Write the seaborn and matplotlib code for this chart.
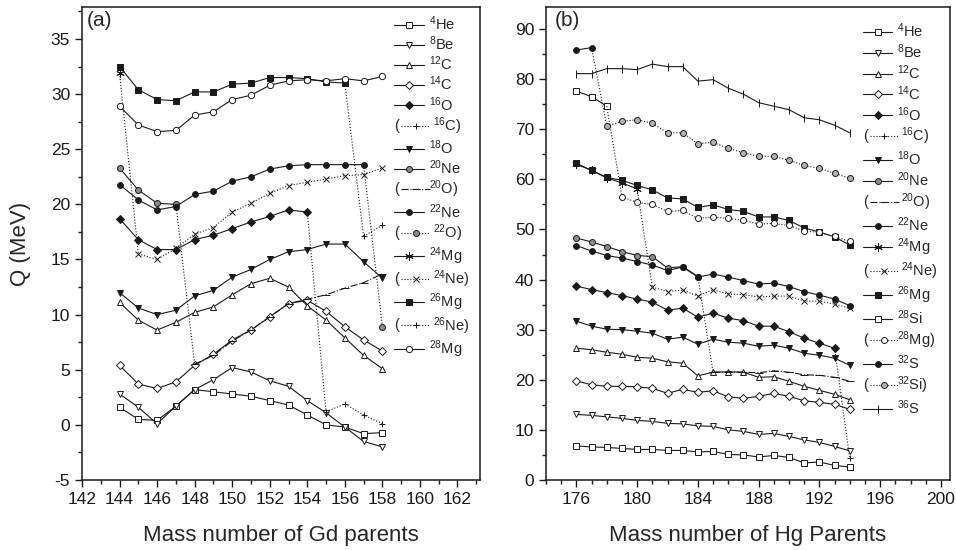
import matplotlib
matplotlib.use("Agg")
import numpy as np
import pandas as pd
import matplotlib.pyplot as plt
import seaborn as sns
from matplotlib.lines import Line2D
from matplotlib.text import Text
from matplotlib.legend_handler import HandlerLine2D
from matplotlib.ticker import MultipleLocator

sns.set_theme(style="ticks")
plt.rcParams["font.family"] = ["Liberation Sans", "DejaVu Sans"]
plt.rcParams["mathtext.fontset"] = "custom"
plt.rcParams["mathtext.rm"] = "Liberation Sans"
plt.rcParams["mathtext.it"] = "Liberation Sans:italic"
plt.rcParams["mathtext.bf"] = "Liberation Sans:bold"
plt.rcParams["axes.unicode_minus"] = False

# ---------------- data: panel (a) Gd parents ----------------
A_x = list(range(144, 159))
He4_a = [1.6, 0.5, 0.4, 1.7, 3.2, 3.0, 2.8, 2.6, 2.2, 1.8, 0.9, 0.0, -0.2, -0.8, -0.7]
Be8_a = [2.8, 1.6, 0.1, 1.7, 3.2, 4.1, 5.2, 4.8, 4.0, 3.5, 2.2, 1.1, -0.2, -1.5, -2.0]
C12_a = [11.1, 9.5, 8.6, 9.3, 10.2, 10.7, 11.8, 12.8, 13.3, 12.5, 10.8, 9.5, 7.9, 6.3, 5.1]
C14_a = [5.4, 3.7, 3.3, 3.9, 5.4, 6.4, 7.7, 8.6, 9.8, 11.0, 11.3, 10.3, 8.9, 7.7, 6.7]
O16_a = [18.7, 16.8, 15.9, 15.9, 16.8, 17.2, 17.8, 18.4, 18.9, 19.5, 19.3]
C16_a = [1.2, 1.9, 0.9, 0.1]
O18_a = [12.0, 10.6, 10.0, 10.4, 11.7, 12.2, 13.4, 14.1, 15.0, 15.7, 15.9, 16.4, 16.4, 14.8, 13.3]
Ne20_a = [23.3, 21.3, 20.1, 20.0]
O20_a = [5.5, 6.3, 7.6, 8.6, 9.8, 11.0, 11.4, 11.8, 12.4, 12.9, 13.7]
Ne22_a = [21.8, 20.4, 19.5, 19.8, 20.9, 21.2, 22.1, 22.5, 23.2, 23.5, 23.6, 23.6, 23.6, 23.6]
O22_a = [8.9]
Mg24_a = [31.9]
Ne24_a = [15.5, 15.0, 16.0, 17.3, 17.9, 19.3, 20.1, 21.0, 21.7, 22.0, 22.3, 22.6, 22.7, 23.3]
Mg26_a = [32.5, 30.4, 29.5, 29.4, 30.2, 30.2, 30.9, 31.0, 31.5, 31.5, 31.4, 31.1, 31.0]
Ne26_a = [17.1, 18.1]
Mg28_a = [28.9, 27.2, 26.6, 26.7, 28.1, 28.4, 29.5, 29.9, 30.8, 31.2, 31.3, 31.2, 31.4, 31.2, 31.6]

# ---------------- data: panel (b) Hg parents ----------------
B_x = list(range(176, 195))
He4_b = [6.8, 6.6, 6.5, 6.3, 6.1, 6.1, 5.9, 5.9, 5.6, 5.7, 5.1, 5.0, 4.6, 4.9, 4.5, 3.4, 3.6, 2.9, 2.6]
Be8_b = [13.1, 12.9, 12.6, 12.3, 11.9, 11.7, 11.3, 11.2, 10.8, 10.7, 10.0, 9.7, 9.1, 9.3, 8.7, 8.0, 7.5, 6.7, 5.8]
C12_b = [26.3, 26.0, 25.5, 25.1, 24.5, 24.3, 23.6, 23.3, 20.8, 21.5, 21.6, 21.5, 20.5, 20.6, 19.7, 18.7, 17.9, 17.1, 16.0]
C14_b = [19.8, 19.0, 18.7, 18.7, 18.6, 18.3, 17.3, 18.1, 17.5, 17.8, 16.6, 16.3, 16.7, 17.3, 16.7, 15.8, 15.5, 15.1, 14.1]
O16_b = [38.7, 38.0, 37.4, 36.8, 36.1, 35.5, 33.9, 34.3, 32.5, 33.3, 32.3, 31.8, 30.7, 30.7, 29.6, 28.3, 27.3, 26.3]
C16_b = [4.3]
O18_b = [31.7, 30.7, 30.1, 30.0, 29.7, 29.3, 28.1, 28.5, 27.1, 28.1, 27.5, 27.3, 26.7, 26.9, 26.3, 25.3, 24.9, 24.3, 22.9]
Ne20_b = [48.3, 47.5, 46.6, 45.6, 44.8, 44.6, 42.3, 42.6, 40.6]
O20_b = [21.5, 21.6, 21.5, 21.4, 21.8, 21.5, 21.0, 20.9, 20.5, 19.7]
Ne22_b = [46.8, 45.7, 44.8, 44.3, 43.6, 42.9, 41.8, 42.5, 40.5, 41.1, 40.5, 39.8, 39.1, 39.3, 38.6, 37.6, 36.9, 36.1, 34.8]
Mg24_b = [63.0, 61.8, 60.3, 59.3, 58.1]
Ne24_b = [38.5, 37.6, 37.9, 36.7, 38.0, 37.1, 37.0, 36.5, 36.7, 36.7, 35.7, 35.7, 35.1, 34.3]
Mg26_b = [63.2, 61.8, 60.4, 59.8, 58.8, 57.9, 56.3, 56.1, 54.4, 54.9, 54.0, 53.6, 52.5, 52.5, 51.8, 50.3, 49.5, 48.5, 46.9]
Si28_b = [77.6, 76.5, 74.6]
Mg28_b = [56.5, 55.4, 55.0, 53.6, 53.8, 52.2, 52.5, 52.2, 51.8, 51.1, 51.2, 50.8, 49.7, 49.4, 48.6, 47.6]
S32_b = [85.8, 86.3]
Si32_b = [70.6, 71.6, 71.9, 71.2, 69.3, 69.3, 67.1, 67.4, 66.2, 65.3, 64.6, 64.6, 63.8, 62.8, 62.2, 61.2, 60.2]
S36_b = [81.1, 81.1, 82.1, 82.1, 81.9, 83.0, 82.5, 82.5, 79.6, 79.9, 78.2, 77.0, 75.3, 74.6, 73.9, 72.3, 71.9, 70.8, 69.3]

# ---------------- styles ----------------
STY = {
    "He4": dict(marker="s", mfc="white", ms=4.5),
    "Be8": dict(marker="v", mfc="white", ms=5),
    "C12": dict(marker="^", mfc="white", ms=5),
    "C14": dict(marker="D", mfc="white", ms=3.6),
    "O16": dict(marker="D", mfc="k", ms=3.6),
    "C16": dict(marker="+", ls=":", ms=5),
    "O18": dict(marker="v", mfc="k", ms=5),
    "Ne20": dict(marker="o", mfc="0.55", ms=4.3),
    "O20": dict(marker="_", ls="-.", ms=6),
    "Ne22": dict(marker="o", mfc="k", ms=4.2),
    "O22": dict(marker="o", mfc="0.55", ls=":", ms=4.3),
    "Mg24": dict(marker=(6, 2, 0), ms=6),
    "Ne24": dict(marker="x", ls=":", ms=4.5),
    "Mg26": dict(marker="s", mfc="k", ms=4.5),
    "Ne26": dict(marker="+", ls=":", ms=5),
    "Mg28a": dict(marker="o", mfc="white", ms=4.5),
    "Si28": dict(marker="s", mfc="white", ms=4.5),
    "Mg28b": dict(marker="o", mfc="white", ls=":", ms=4.3),
    "S32": dict(marker="o", mfc="k", ms=4.2),
    "Si32": dict(marker="o", mfc="0.7", ls=":", ms=4.3),
    "S36": dict(marker="|", ms=5.5),
}
LW = 0.8


def kw(key):
    s = STY[key]
    return dict(marker=s["marker"], markersize=s["ms"], markerfacecolor=s.get("mfc", "k"),
                markeredgecolor="k", markeredgewidth=0.7, linestyle=s.get("ls", "-"))


def draw(ax, xs, ys, key):
    df = pd.DataFrame({"x": xs, "y": ys})
    sns.lineplot(data=df, x="x", y="y", ax=ax, color="k", lw=LW, sort=False,
                 estimator=None, legend=False, **kw(key))


def connect(ax, xp, yp, xa, ya):
    df = pd.DataFrame({"x": [xp[-1], xa[0]], "y": [yp[-1], ya[0]]})
    sns.lineplot(data=df, x="x", y="y", ax=ax, color="k", lw=LW, linestyle=":",
                 sort=False, estimator=None, legend=False)


class ParenHandler(HandlerLine2D):
    def create_artists(self, legend, orig_handle, xdescent, ydescent, width, height,
                       fontsize, trans):
        pw = fontsize * 0.45
        arts = super().create_artists(legend, orig_handle, xdescent - pw, ydescent,
                                      width, height, fontsize, trans)
        t = Text(-xdescent, height / 2 - ydescent, "(", fontsize=fontsize,
                 va="center", ha="left", transform=trans)
        return list(arts) + [t]


def make_legend(ax, entries, anchor, spacing):
    handles, labels, hmap = [], [], {}
    for key, lab, paren in entries:
        h = Line2D([], [], color="k", lw=LW, **kw(key))
        handles.append(h)
        labels.append(lab)
        if paren:
            hmap[h] = ParenHandler()
    ax.legend(handles, labels, handler_map=hmap, loc="upper left", bbox_to_anchor=anchor,
              frameon=False, fontsize=10.5, handlelength=2.0, handletextpad=0.35,
              labelspacing=spacing, borderpad=0.0, borderaxespad=0.0)


fig = plt.figure(figsize=(9.56, 5.5), dpi=100)
axA = fig.add_axes([82 / 956, 70 / 550, 398 / 956, 473 / 550])
axB = fig.add_axes([546 / 956, 70 / 550, 404 / 956, 473 / 550])

# ---- panel (a)
draw(axA, A_x, He4_a, "He4")
draw(axA, A_x, Be8_a, "Be8")
draw(axA, A_x, C12_a, "C12")
draw(axA, A_x, C14_a, "C14")
draw(axA, A_x[:11], O16_a, "O16")
connect(axA, A_x[:11], O16_a, A_x[11:], C16_a)
draw(axA, A_x[11:], C16_a, "C16")
draw(axA, A_x, O18_a, "O18")
draw(axA, A_x[:4], Ne20_a, "Ne20")
connect(axA, A_x[:4], Ne20_a, A_x[4:], O20_a)
draw(axA, A_x[4:], O20_a, "O20")
draw(axA, A_x[:14], Ne22_a, "Ne22")
connect(axA, A_x[:14], Ne22_a, A_x[14:], O22_a)
draw(axA, A_x[14:], O22_a, "O22")
draw(axA, A_x[:1], Mg24_a, "Mg24")
connect(axA, A_x[:1], Mg24_a, A_x[1:], Ne24_a)
draw(axA, A_x[1:], Ne24_a, "Ne24")
draw(axA, A_x[:13], Mg26_a, "Mg26")
connect(axA, A_x[:13], Mg26_a, A_x[13:], Ne26_a)
draw(axA, A_x[13:], Ne26_a, "Ne26")
draw(axA, A_x, Mg28_a, "Mg28a")

# ---- panel (b)
draw(axB, B_x, He4_b, "He4")
draw(axB, B_x, Be8_b, "Be8")
draw(axB, B_x, C12_b, "C12")
draw(axB, B_x, C14_b, "C14")
draw(axB, B_x[:18], O16_b, "O16")
connect(axB, B_x[:18], O16_b, B_x[18:], C16_b)
draw(axB, B_x[18:], C16_b, "C16")
draw(axB, B_x, O18_b, "O18")
draw(axB, B_x[:9], Ne20_b, "Ne20")
connect(axB, B_x[:9], Ne20_b, B_x[9:], O20_b)
draw(axB, B_x[9:], O20_b, "O20")
draw(axB, B_x, Ne22_b, "Ne22")
draw(axB, B_x[:5], Mg24_b, "Mg24")
connect(axB, B_x[:5], Mg24_b, B_x[5:], Ne24_b)
draw(axB, B_x[5:], Ne24_b, "Ne24")
draw(axB, B_x, Mg26_b, "Mg26")
draw(axB, B_x[:3], Si28_b, "Si28")
connect(axB, B_x[:3], Si28_b, B_x[3:], Mg28_b)
draw(axB, B_x[3:], Mg28_b, "Mg28b")
draw(axB, B_x[:2], S32_b, "S32")
connect(axB, B_x[:2], S32_b, B_x[2:], Si32_b)
draw(axB, B_x[2:], Si32_b, "Si32")
draw(axB, B_x, S36_b, "S36")

# ---- axes formatting
for ax in (axA, axB):
    for sp in ax.spines.values():
        sp.set_visible(True)
        sp.set_linewidth(1.1)
        sp.set_color("k")
    ax.tick_params(which="both", direction="out", top=False, right=False,
                   colors="k", labelsize=12.5, width=1.0)
    ax.tick_params(which="major", length=5)
    ax.tick_params(which="minor", length=3)
    ax.set_ylabel("")

axA.set_xlim(142, 163.2)
axA.set_ylim(-5, 37.9)
axA.xaxis.set_major_locator(MultipleLocator(2))
axA.xaxis.set_minor_locator(MultipleLocator(1))
axA.yaxis.set_major_locator(MultipleLocator(5))
axA.yaxis.set_minor_locator(MultipleLocator(2.5))
axA.set_xticks(range(142, 163, 2))
axA.set_xlabel("Mass number of Gd parents", fontsize=16, labelpad=13)
axA.set_ylabel("Q (MeV)", fontsize=16, labelpad=14)
axA.text(0.012, 0.992, "(a)", transform=axA.transAxes, fontsize=15, va="top", ha="left")

axB.set_xlim(174, 200.6)
axB.set_ylim(0, 94.4)
axB.set_xticks(range(176, 201, 4))
axB.xaxis.set_minor_locator(MultipleLocator(1))
axB.yaxis.set_major_locator(MultipleLocator(10))
axB.yaxis.set_minor_locator(MultipleLocator(5))
axB.set_xlabel("Mass number of Hg Parents", fontsize=16, labelpad=13)
axB.text(0.022, 0.992, "(b)", transform=axB.transAxes, fontsize=15, va="top", ha="left")

entries_a = [("He4", "$^{4}$He", False), ("Be8", "$^{8}$Be", False),
             ("C12", "$^{12}$C", False), ("C14", "$^{14}$C", False),
             ("O16", "$^{16}$O", False), ("C16", " $^{16}$C)", True),
             ("O18", "$^{18}$O", False), ("Ne20", "$^{20}$Ne", False),
             ("O20", "$^{20}$O)", True), ("Ne22", "$^{22}$Ne", False),
             ("O22", " $^{22}$O)", True), ("Mg24", "$^{24}$Mg", False),
             ("Ne24", " $^{24}$Ne)", True), ("Mg26", "$^{26}$Mg", False),
             ("Ne26", " $^{26}$Ne)", True), ("Mg28a", "$^{28}$Mg", False)]
entries_b = [("He4", "$^{4}$He", False), ("Be8", "$^{8}$Be", False),
             ("C12", "$^{12}$C", False), ("C14", "$^{14}$C", False),
             ("O16", "$^{16}$O", False), ("C16", " $^{16}$C)", True),
             ("O18", "$^{18}$O", False), ("Ne20", "$^{20}$Ne", False),
             ("O20", " $^{20}$O)", True), ("Ne22", "$^{22}$Ne", False),
             ("Mg24", "$^{24}$Mg", False), ("Ne24", " $^{24}$Ne)", True),
             ("Mg26", "$^{26}$Mg", False), ("Si28", "$^{28}$Si", False),
             ("Mg28b", "$^{28}$Mg)", True), ("S32", "$^{32}$S", False),
             ("Si32", "$^{32}$Si)", True), ("S36", "$^{36}$S", False)]
make_legend(axA, entries_a, (0.785, 0.985), 0.11)
make_legend(axB, entries_b, (0.785, 0.97), 0.16)

fig.savefig("out.png", dpi=100)
